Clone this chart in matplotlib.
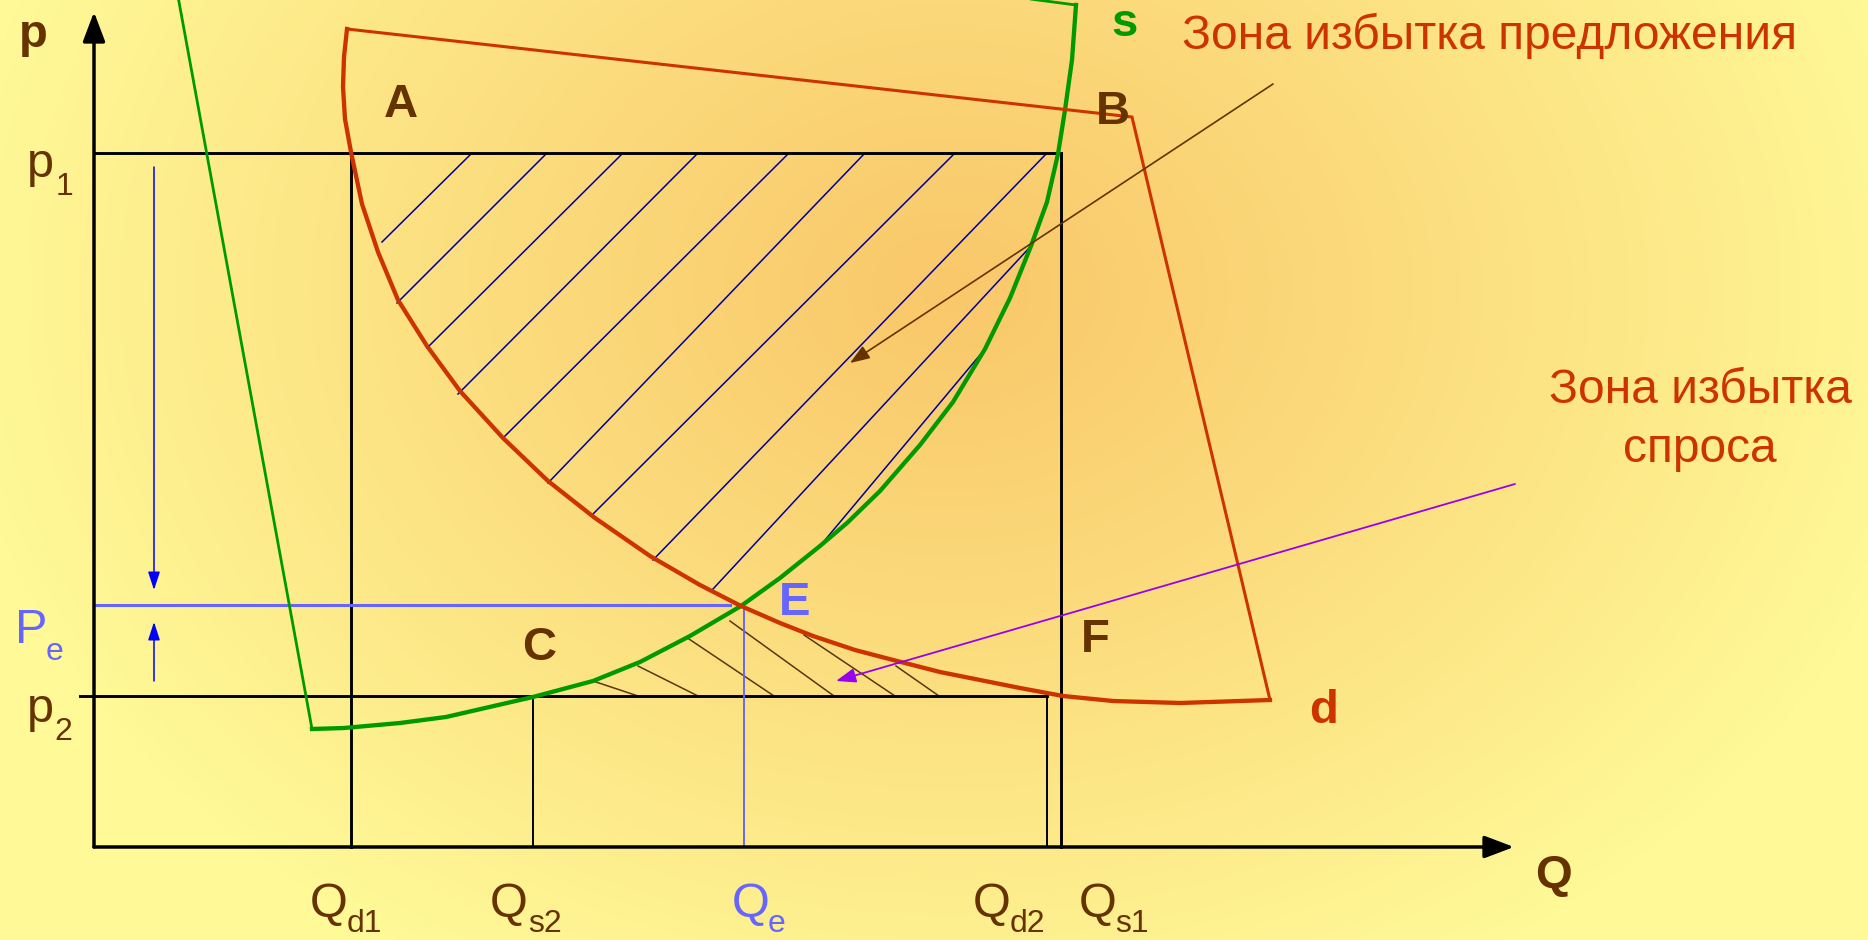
import numpy as np
import matplotlib.pyplot as plt
from matplotlib.patches import FancyArrowPatch

plt.rcParams['font.family'] = ['Liberation Sans', 'DejaVu Sans']

#colours
brown = '#663300'
red = '#cc3300'
green = '#009900'
navy = '#000099'
peBlue = '#6666ff'
blue = '#0000ff'
purple = '#9900ee'

#price levels and quantities (picture units measured from the origin)
p1, pe, p2 = 694, 242, 151
qd1, qs2, qe, qd2, qs1 = 257, 439, 650, 953, 967
pAxisTop, qAxisEnd = 835, 1420
p2Start, peEnd = -14, 636

#supply curve s: left edge, arc, short top edge
supplyQ = [81, 218, 250, 306, 352, 439, 499, 546, 596, 647, 686, 726, 753, 786, 826,
           859, 891, 916, 937, 953, 964, 971, 978, 982, 906]
supplyP = [867, 118, 119, 124, 130, 150, 166, 185, 211, 241, 269, 301, 324, 356, 402,
           445, 498, 549, 601, 645, 693, 737, 787, 842, 852]

#demand curve d: arc from top-left corner, then the two straight edges meeting at B
demandQ = [253, 250, 249, 251, 257, 268, 284, 304, 333, 366, 409, 454, 501, 556, 606, 647,
           686, 719, 761, 803, 846, 886, 926, 969, 1019, 1086, 1176]
demandP = [818, 790, 760, 728, 695, 643, 595, 547, 501, 456, 409, 366, 329, 291, 262, 241,
           224, 211, 197, 186, 175, 167, 159, 151, 146, 144, 147]
cornerQ, cornerP = 1038, 730

#hatching of the excess supply zone
hatchTopQ = [378, 453, 529, 604, 695, 771, 861, 953, 937, 891]
hatchTopP = [694, 694, 694, 694, 694, 694, 694, 694, 601, 498]
hatchEndQ = [288, 303, 333, 364, 409, 454, 499, 559, 619, 726]
hatchEndP = [605, 544, 499, 453, 409, 364, 333, 287, 258, 301]

#hatching of the excess demand zone
shortTopQ = [499, 544, 592, 636, 710, 802]
shortTopP = [166, 181, 210, 226, 212, 181]
shortEndQ = [544, 604, 680, 740, 801, 845]
shortEndP = [151, 151, 151, 151, 151, 151]

#axis and level labels with their subscripts
mainText = ['p', 'p', 'P', 'Q', 'Q', 'Q', 'Q', 'Q']
mainQ = [-67, -67, -79, 216, 396, 638, 879, 985]
mainP = [670, 125, 204, -70, -70, -70, -70, -70]
subText = ['1', '2', 'e', 'd1', 's2', 'e', 'd2', 's1']
subQ = [-38, -40, -48, 253, 434, 674, 916, 1021]
subP = [652, 107, 187, -85, -85, -85, -85, -85]
labelColor = [brown, brown, peBlue, brown, brown, peBlue, brown, brown]

#bold point labels
pointText = ['p', 'Q', 'A', 'B', 'C', 'F', 'E', 's', 'd']
pointQ = [-75, 1441, 290, 1002, 428, 987, 685, 1017, 1215]
pointP = [800, -41, 730, 723, 187, 195, 232, 811, 124]
pointColor = [brown, brown, brown, brown, brown, brown, peBlue, green, red]

fig = plt.figure(figsize=(18.68, 9.40), dpi=100)
ax = fig.add_axes([0, 0, 1, 1])
ax.set_xlim(-94, 1774)
ax.set_ylim(-93, 847)
ax.axis('off')

#radial background, orange in the middle, pale yellow at the edges
yy, xx = np.mgrid[0:940, 0:1868]
d = np.sqrt(((xx - 950) / 1000.0) ** 2 + ((yy - 290) / 780.0) ** 2)
t = np.clip(d, 0, 1) ** 1.1
inner = np.array([249, 200, 106]) / 255.0
outer = np.array([255, 249, 152]) / 255.0
bg = inner[None, None, :] * (1 - t[..., None]) + outer[None, None, :] * t[..., None]
ax.imshow(bg, extent=[-94, 1774, -93, 847], aspect='auto', zorder=0)

#rectangle lines of the diagram
ax.plot([0, qs1], [p1, p1], color='black', lw=2.1, zorder=3)
ax.plot([p2Start, qd2], [p2, p2], color='black', lw=2.1, zorder=3)
ax.plot([qd1, qd1], [0, p1], color='black', lw=2.1, zorder=3)
ax.plot([qs1, qs1], [0, p1], color='black', lw=2.1, zorder=3)
ax.plot([qs2, qs2], [0, p2], color='black', lw=1.4, zorder=3)
ax.plot([qd2, qd2], [0, p2], color='black', lw=1.4, zorder=3)

#equilibrium lines
ax.plot([0, peEnd], [pe, pe], color=peBlue, lw=2.2, zorder=3)
ax.plot([qe, qe], [0, pe], color=peBlue, lw=1.4, zorder=3)

#hatching
for i in range(len(hatchTopQ)):
	ax.plot([hatchTopQ[i], hatchEndQ[i]], [hatchTopP[i], hatchEndP[i]], color=navy, lw=1.1, zorder=2)
for i in range(len(shortTopQ)):
	ax.plot([shortTopQ[i], shortEndQ[i]], [shortTopP[i], shortEndP[i]], color='#5a3511', lw=1.1, zorder=2)

#supply curve
ax.plot(supplyQ[:2], supplyP[:2], color=green, lw=2.0, zorder=4, solid_capstyle='round')
ax.plot(supplyQ[1:24], supplyP[1:24], color=green, lw=3.1, zorder=4, solid_joinstyle='round')
ax.plot(supplyQ[23:], supplyP[23:], color=green, lw=2.0, zorder=4, solid_capstyle='round')

#demand curve
ax.plot(demandQ, demandP, color=red, lw=3.1, zorder=4, solid_joinstyle='round')
ax.plot([demandQ[-1], cornerQ, demandQ[0]], [demandP[-1], cornerP, demandP[0]],
		color=red, lw=2.2, zorder=4, solid_joinstyle='miter')

#axes with arrows
def arrow(q0, p0, q1, p1_, color, lw, hl, hw, scale=20):
	a = FancyArrowPatch((q0, p0), (q1, p1_), arrowstyle='-|>,head_length=%s,head_width=%s' % (hl, hw),
						mutation_scale=scale, color=color, lw=lw, shrinkA=0, shrinkB=0, zorder=5)
	ax.add_patch(a)

arrow(0, 0, 0, pAxisTop, 'black', 2.5, 0.9, 0.34)
arrow(0, 0, qAxisEnd, 0, 'black', 2.5, 0.9, 0.34)

#price movement arrows
arrow(60, 680, 60, 257, blue, 1.1, 0.55, 0.18)
arrow(60, 166, 60, 225, blue, 1.1, 0.55, 0.18)

#pointer arrows to the zones
arrow(1179, 763, 756, 484, brown, 1.2, 0.6, 0.22)
arrow(1421, 363, 742, 166, purple, 1.3, 0.6, 0.22)

#labels
for i in range(len(mainText)):
	ax.text(mainQ[i], mainP[i], mainText[i], color=labelColor[i], fontsize=35, ha='left', va='baseline', zorder=6)
	ax.text(subQ[i], subP[i], subText[i], color=labelColor[i], fontsize=23, ha='left', va='baseline', zorder=6)

for i in range(len(pointText)):
	ax.text(pointQ[i], pointP[i], pointText[i], color=pointColor[i], fontsize=34, fontweight='bold',
			ha='left', va='baseline', zorder=6)

ax.text(1088, 798, 'Зона избытка предложения', color=red, fontsize=34.5, ha='left', va='baseline', zorder=6)
ax.text(1606, 444, 'Зона избытка', color=red, fontsize=34.5, ha='center', va='baseline', zorder=6)
ax.text(1606, 385, 'спроса', color=red, fontsize=34.5, ha='center', va='baseline', zorder=6)

plt.savefig('out.png', dpi=100)
